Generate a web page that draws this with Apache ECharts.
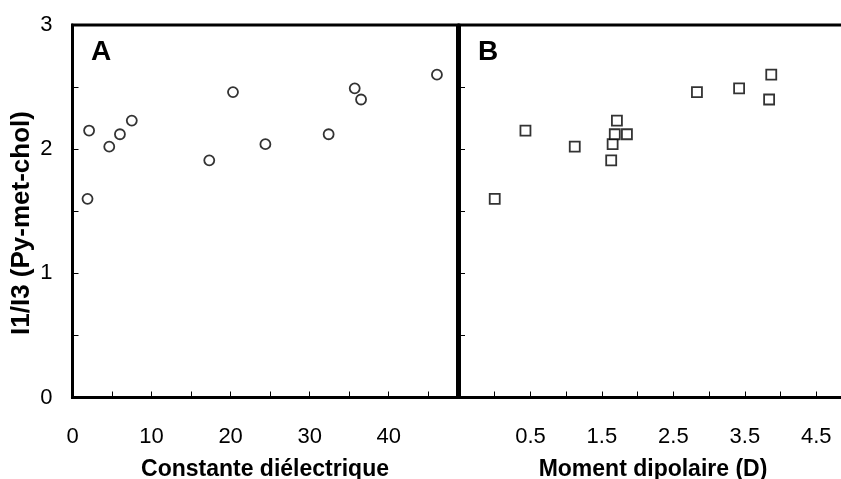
<!DOCTYPE html>
<html>
<head>
<meta charset="utf-8">
<script src="https://cdn.jsdelivr.net/npm/echarts@6/dist/echarts.min.js"></script>
<style>html,body{margin:0;padding:0;background:#fff;overflow:hidden}#c{width:841px;height:479px}</style>
</head>
<body>
<div id="c"></div>
<script>
// Panel A: dielectric constant vs I1/I3
const dielectric = [1.9, 2.1, 4.65, 6.0, 7.5, 17.3, 20.3, 24.4, 32.4, 35.7, 36.5, 46.1];
const ratioA     = [1.60, 2.15, 2.02, 2.12, 2.23, 1.91, 2.46, 2.04, 2.12, 2.49, 2.40, 2.60];
// Panel B: dipole moment vs I1/I3
const dipole = [0.0, 0.43, 1.12, 1.63, 1.65, 1.68, 1.71, 1.85, 2.83, 3.42, 3.84, 3.87];
const ratioB = [1.60, 2.15, 2.02, 1.91, 2.04, 2.12, 2.23, 2.12, 2.46, 2.49, 2.40, 2.60];
const xTitleA = 'Constante diélectrique';
const xTitleB = 'Moment dipolaire (D)';
const yTitle = 'I1/I3 (Py-met-chol)';
const panelLabels = ['A', 'B'];

const FONT = '"Liberation Sans", Arial, sans-serif';
const chart = echarts.init(document.getElementById('c'));

const axisLine = {show: true, onZero: false, lineStyle: {color: '#000', width: 3}};
const tick = {show: true, inside: true, length: 6, lineStyle: {color: '#000', width: 1}};
const lbl = {color: '#000', fontFamily: FONT, fontSize: 22};

const near = (a, b) => Math.abs(a - b) < 1e-6;

chart.setOption({
  animation: false,
  grid: [
    {left: 72.5, width: 385, top: 25, height: 372.5, show: true, borderColor: '#000', borderWidth: 3,
     containLabel: false, outerBoundsMode: 'none'},
    {left: 459, width: 388, top: 25, height: 372.5, show: true, borderColor: '#000', borderWidth: 3,
     containLabel: false, outerBoundsMode: 'none'}
  ],
  xAxis: [
    {type: 'value', gridIndex: 0, min: 0, max: 48.7, interval: 5,
     axisLine, axisTick: tick, splitLine: {show: false},
     axisLabel: Object.assign({}, lbl, {margin: 28, formatter: v => (near(v % 10, 0) && v < 48) ? String(Math.round(v)) : ''}),
     name: xTitleA, nameLocation: 'middle', nameGap: 61,
     nameTextStyle: {color: '#000', fontFamily: FONT, fontSize: 23, fontWeight: 'bold'}},
    {type: 'value', gridIndex: 1, min: -0.5, max: 4.93, interval: 0.5,
     axisLine, axisTick: tick, splitLine: {show: false},
     axisLabel: Object.assign({}, lbl, {margin: 28, formatter: v => {
       const r = Math.round(v * 10) / 10;
       return (r > 0 && near(Math.abs((r - 0.5) % 1), 0)) ? r.toFixed(1) : '';
     }}),
     name: xTitleB, nameLocation: 'middle', nameGap: 61,
     nameTextStyle: {color: '#000', fontFamily: FONT, fontSize: 23, fontWeight: 'bold'}}
  ],
  yAxis: [
    {type: 'value', gridIndex: 0, min: 0, max: 3, interval: 0.5,
     axisLine, axisTick: tick, splitLine: {show: false},
     axisLabel: Object.assign({}, lbl, {margin: 20, formatter: v => near(v % 1, 0) ? String(Math.round(v)) : ''})},
    {type: 'value', gridIndex: 1, min: 0, max: 3, interval: 0.5,
     axisLine, axisTick: tick, splitLine: {show: false},
     axisLabel: {show: false}}
  ],
  graphic: [
    {type: 'text', x: 22, y: 223, rotation: Math.PI / 2,
     style: {text: yTitle, fill: '#000', font: 'bold 26px ' + FONT, align: 'center', verticalAlign: 'middle'}},
    {type: 'text', x: 91, y: 52,
     style: {text: panelLabels[0], fill: '#000', font: 'bold 28px ' + FONT, align: 'left', verticalAlign: 'middle'}},
    {type: 'text', x: 478, y: 52,
     style: {text: panelLabels[1], fill: '#000', font: 'bold 28px ' + FONT, align: 'left', verticalAlign: 'middle'}}
  ],
  series: [
    {type: 'scatter', xAxisIndex: 0, yAxisIndex: 0, symbol: 'circle', symbolSize: 10,
     itemStyle: {color: '#fff', borderColor: '#000', borderWidth: 1.8},
     data: dielectric.map((x, i) => [x, ratioA[i]])},
    {type: 'scatter', xAxisIndex: 1, yAxisIndex: 1, symbol: 'rect', symbolSize: 10,
     itemStyle: {color: '#fff', borderColor: '#000', borderWidth: 1.8},
     data: dipole.map((x, i) => [x, ratioB[i]])}
  ]
});
</script>
</body>
</html>
